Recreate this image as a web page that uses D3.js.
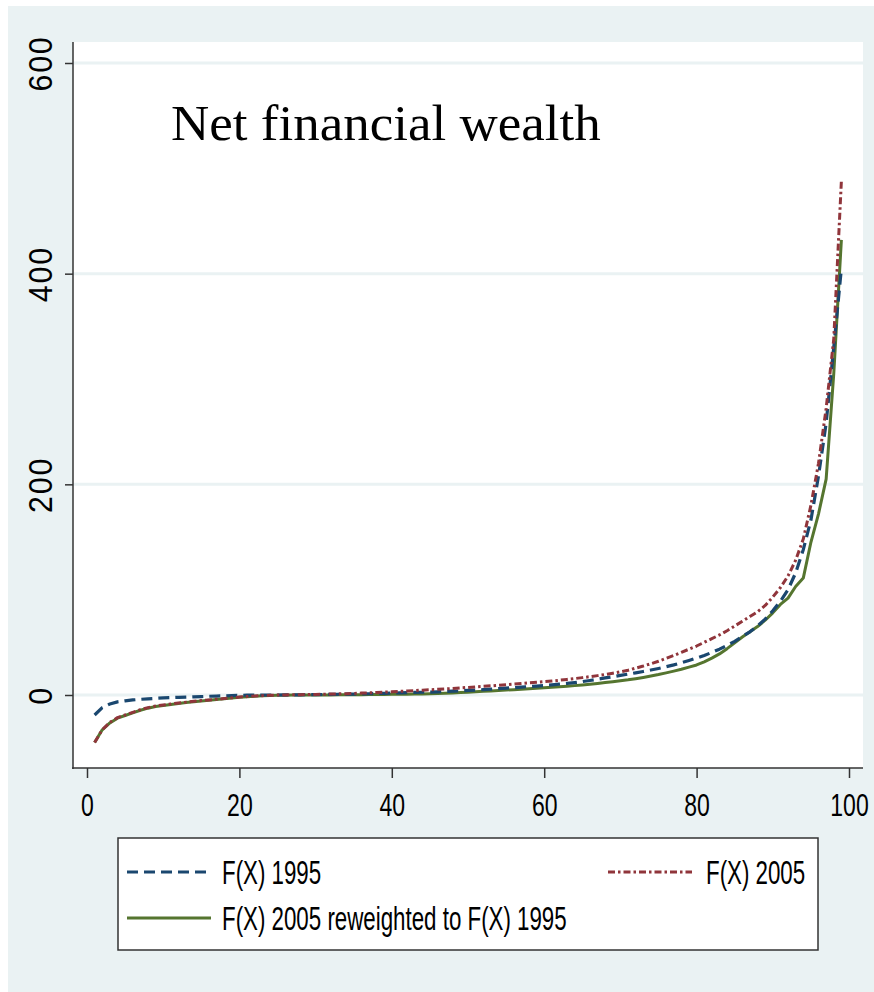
<!DOCTYPE html>
<html>
<head>
<meta charset="utf-8">
<script src="https://cdn.jsdelivr.net/npm/d3@7"></script>
<style>
  html, body { margin: 0; padding: 0; background: #ffffff; }
  svg { display: block; }
</style>
</head>
<body>
<svg id="chart" width="874" height="992"></svg>
<script>
// Percentiles 1..99 of the distribution
const percentiles = d3.range(1, 100);

// Net financial wealth by percentile, F(X) 1995
const f1995 = [
  -19, -12, -8.5, -6.5, -5.5, -4.7, -4.1, -3.6, -3.2, -2.8,
  -2.5, -2.2, -2.0, -1.7, -1.5, -1.2, -1.0, -0.8, -0.5, -0.3,
  -0.2, -0.1, 0, 0, 0, 0.1, 0.1, 0.2, 0.3, 0.4,
  0.5, 0.6, 0.7, 0.8, 0.9, 1.0, 1.2, 1.4, 1.6, 1.8,
  2.0, 2.2, 2.4, 2.6, 2.8, 3.0, 3.3, 3.6, 3.9, 4.3,
  4.7, 5.1, 5.5, 6.0, 6.5, 7.0, 7.5, 8.0, 8.5, 9.0,
  9.6, 10.3, 11.0, 11.8, 12.7, 13.8, 15.0, 16.2, 17.4, 18.6,
  19.8, 21.0, 22.3, 23.7, 25.2, 26.8, 28.6, 30.6, 32.8, 35.0,
  37.6, 40.4, 43.5, 47.0, 51.0, 55.5, 60.0, 65.5, 72.0, 80.0,
  89, 100, 116, 138, 166, 208, 258, 330, 405
];

// F(X) 2005
const f2005 = [
  -45, -33, -26, -21.5, -19, -16.5, -14, -12, -10.5, -9.5,
  -8.5, -7.6, -6.8, -6.0, -5.3, -4.7, -4.0, -3.4, -2.7, -2.0,
  -1.5, -1.0, -0.6, -0.3, 0, 0.1, 0.2, 0.3, 0.4, 0.5,
  0.7, 0.9, 1.1, 1.3, 1.5, 1.8, 2.1, 2.4, 2.7, 3.0,
  3.4, 3.8, 4.2, 4.6, 5.0, 5.4, 5.8, 6.2, 6.7, 7.2,
  7.7, 8.2, 8.7, 9.2, 9.7, 10.3, 10.9, 11.5, 12.1, 12.7,
  13.3, 14.0, 14.8, 15.6, 16.5, 17.4, 18.4, 19.5, 20.7, 22.0,
  23.5, 25.5, 27.5, 29.7, 32.0, 34.8, 37.5, 40.5, 43.5, 46.5,
  50, 53.5, 57, 61, 65.5, 70, 74.5, 79, 85, 93,
  102, 113, 128, 148, 180, 220, 272, 338, 488
];

// F(X) 2005 reweighted to F(X) 1995
const f2005rw = [
  -45, -33, -26.5, -22, -19.5, -17, -14.5, -12.5, -11, -10,
  -9, -8, -7.2, -6.4, -5.6, -4.9, -4.2, -3.5, -2.8, -2.1,
  -1.6, -1.2, -0.8, -0.5, -0.3, -0.2, -0.1, 0, 0, 0,
  0.1, 0.1, 0.2, 0.2, 0.3, 0.3, 0.4, 0.5, 0.5, 0.6,
  0.7, 0.8, 0.9, 1.0, 1.2, 1.4, 1.7, 2.0, 2.3, 2.7,
  3.1, 3.5, 3.9, 4.3, 4.7, 5.1, 5.5, 5.9, 6.3, 6.8,
  7.3, 7.8, 8.3, 8.9, 9.5, 10.2, 11.0, 11.8, 12.6, 13.5,
  14.4, 15.5, 16.7, 18.0, 19.4, 21.0, 22.7, 24.5, 26.5, 28.5,
  31.5, 35, 39, 44, 49.5, 55, 60, 65, 71, 78,
  86, 92, 103, 111, 145, 172, 205, 305, 432
];

const xTicks = [0, 20, 40, 60, 80, 100];
const yTicks = [0, 200, 400, 600];
const titleText = "Net financial wealth";
const seriesNames = ["F(X) 1995", "F(X) 2005", "F(X) 2005 reweighted to F(X) 1995"];

const svg = d3.select("#chart");
const W = 874, H = 992;

// graph region
svg.append("rect").attr("x", 8).attr("y", 6).attr("width", W - 8).attr("height", H - 6)
  .attr("fill", "#eaf2f3");

// plot region box
const plot = { left: 73, right: 863, top: 42, bottom: 768 };
svg.append("rect").attr("x", plot.left).attr("y", plot.top)
  .attr("width", plot.right - plot.left).attr("height", plot.bottom - plot.top)
  .attr("fill", "#ffffff");

const x = d3.scaleLinear().domain([0, 100]).range([87, 849]);
const y = d3.scaleLinear().domain([0, 600]).range([695, 63]);

// horizontal grid lines
svg.append("g").selectAll("line").data(yTicks).join("line")
  .attr("x1", plot.left).attr("x2", plot.right)
  .attr("y1", d => y(d)).attr("y2", d => y(d))
  .attr("stroke", "#eaf2f3").attr("stroke-width", 3);

// y axis
const yAxis = svg.append("g").attr("transform", `translate(${plot.left},0)`)
  .call(d3.axisLeft(y).tickValues(yTicks).tickSize(8).tickSizeOuter(0).tickFormat(d3.format("d")));
yAxis.select(".domain").remove();
yAxis.append("line").attr("x1", 0).attr("x2", 0).attr("y1", plot.top).attr("y2", plot.bottom + 1)
  .attr("stroke", "#333").attr("stroke-width", 1.5);
yAxis.selectAll(".tick line").attr("stroke", "#333").attr("stroke-width", 1.5);
yAxis.selectAll(".tick text")
  .attr("x", null).attr("dy", null)
  .attr("transform", "translate(-21,0) rotate(-90) scale(0.92,1)")
  .attr("text-anchor", "middle")
  .attr("letter-spacing", 2)
  .attr("font-family", "'Liberation Sans', Arial, sans-serif")
  .attr("font-size", 33).attr("fill", "#000");

// x axis
const xAxis = svg.append("g").attr("transform", `translate(0,${plot.bottom})`)
  .call(d3.axisBottom(x).tickValues(xTicks).tickSize(10).tickSizeOuter(0).tickFormat(d3.format("d")));
xAxis.select(".domain").remove();
xAxis.append("line").attr("x1", plot.left - 1).attr("x2", plot.right).attr("y1", 0).attr("y2", 0)
  .attr("stroke", "#333").attr("stroke-width", 1.5);
xAxis.selectAll(".tick line").attr("stroke", "#333").attr("stroke-width", 1.5);
xAxis.selectAll(".tick text")
  .attr("y", null).attr("dy", null)
  .attr("transform", "translate(0,48) scale(0.72,1)")
  .attr("text-anchor", "middle")
  .attr("font-family", "'Liberation Sans', Arial, sans-serif")
  .attr("font-size", 32).attr("fill", "#000");

// series
const series = [
  { name: seriesNames[0], values: f1995, color: "#1a476f", width: 3.2, dash: "11,6" },
  { name: seriesNames[1], values: f2005, color: "#90353b", width: 3, dash: "7,3,2.5,3" },
  { name: seriesNames[2], values: f2005rw, color: "#55752f", width: 3, dash: null }
];

const line = d3.line().x(d => x(d[0])).y(d => y(d[1]));

// draw the reweighted line first so the dashed ones sit on top where they overlap
const drawOrder = [2, 0, 1];
drawOrder.forEach(i => {
  const s = series[i];
  svg.append("path")
    .datum(percentiles.map((p, k) => [p, s.values[k]]))
    .attr("d", line)
    .attr("fill", "none")
    .attr("stroke", s.color)
    .attr("stroke-width", s.width)
    .attr("stroke-linejoin", "round")
    .attr("stroke-dasharray", s.dash);
});

// title inside the plot
svg.append("text")
  .attr("transform", "translate(171,140) scale(1.06,1)")
  .attr("font-family", "'Palatino Linotype', 'Book Antiqua', 'Liberation Serif', 'DejaVu Serif', serif")
  .attr("font-size", 50).attr("fill", "#000")
  .text(titleText);

// legend
const lg = svg.append("g");
lg.append("rect").attr("x", 118).attr("y", 838).attr("width", 700).attr("height", 112)
  .attr("fill", "#ffffff").attr("stroke", "#333").attr("stroke-width", 1.5);

const legendItems = [
  { s: series[0], kx: 127, ky: 872, tx: 222 },
  { s: series[1], kx: 608, ky: 872, tx: 706 },
  { s: series[2], kx: 127, ky: 918, tx: 222 }
];
legendItems.forEach(it => {
  lg.append("line")
    .attr("x1", it.kx).attr("x2", it.kx + 84)
    .attr("y1", it.ky).attr("y2", it.ky)
    .attr("stroke", it.s.color).attr("stroke-width", it.s.width)
    .attr("stroke-dasharray", it.s.dash);
  lg.append("text")
    .attr("transform", `translate(${it.tx},${it.ky + 12}) scale(0.72,1.05)`)
    .attr("font-family", "'Liberation Sans', Arial, sans-serif")
    .attr("font-size", 31).attr("fill", "#000")
    .text(it.s.name);
});
</script>
</body>
</html>
